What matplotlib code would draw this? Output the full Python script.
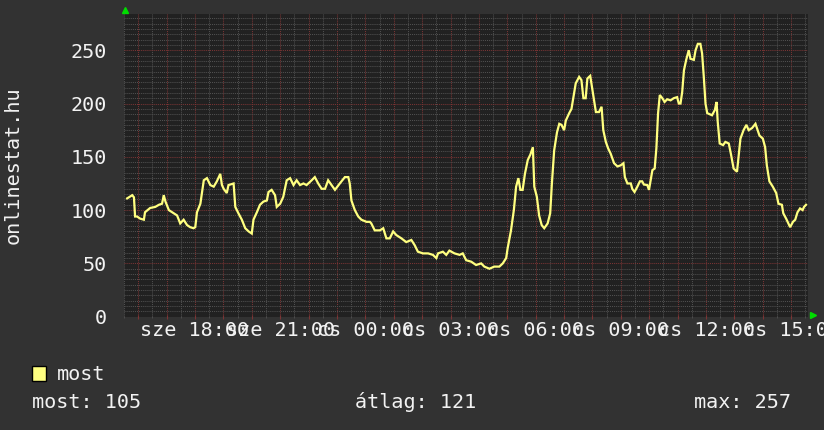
import matplotlib
matplotlib.use('Agg')
import matplotlib.pyplot as plt
import numpy as np
from matplotlib.transforms import offset_copy
from matplotlib.patches import Rectangle

# ---- data (time in hours since previous midnight; >24 = next day) ----
hours = [15.61, 15.79, 15.85, 15.89, 15.96, 16.07, 16.20, 16.24, 16.42, 16.60,
         16.73, 16.84, 16.90, 16.96, 17.08, 17.25, 17.37, 17.48, 17.60, 17.72,
         17.83, 17.95, 18.01, 18.07, 18.19, 18.31, 18.42, 18.54, 18.66, 18.77,
         18.89, 18.95, 19.01, 19.12, 19.18, 19.36, 19.42, 19.53, 19.65, 19.77,
         19.89, 20.00, 20.06, 20.18, 20.29, 20.41, 20.53, 20.59, 20.70, 20.82,
         20.88, 21.00, 21.11, 21.23, 21.35, 21.47, 21.58, 21.70, 21.82, 21.93,
         22.11, 22.22, 22.34, 22.46, 22.58, 22.69, 22.81, 22.93, 23.10, 23.28,
         23.40, 23.45, 23.51, 23.63, 23.75, 23.86, 24.04, 24.16, 24.21, 24.33,
         24.51, 24.63, 24.74, 24.86, 24.98, 25.09, 25.27, 25.44, 25.62, 25.74,
         25.85, 26.03, 26.21, 26.38, 26.50, 26.56, 26.73, 26.85, 26.96, 27.14,
         27.32, 27.43, 27.55, 27.73, 27.90, 28.08, 28.19, 28.37, 28.54, 28.72,
         28.84, 28.96, 29.01, 29.13, 29.23, 29.31, 29.39, 29.46, 29.54, 29.62,
         29.72, 29.81, 29.90, 29.95, 30.04, 30.12, 30.21, 30.30, 30.42, 30.51,
         30.57, 30.65, 30.75, 30.83, 30.91, 31.00, 31.06, 31.18, 31.26, 31.33,
         31.41, 31.53, 31.61, 31.68, 31.76, 31.82, 31.92, 32.00, 32.12, 32.23,
         32.32, 32.38, 32.47, 32.55, 32.64, 32.76, 32.88, 32.99, 33.09, 33.14,
         33.23, 33.35, 33.40, 33.48, 33.58, 33.67, 33.75, 33.81, 33.93, 33.99,
         34.05, 34.11, 34.19, 34.25, 34.31, 34.37, 34.46, 34.54, 34.63, 34.75,
         34.86, 34.98, 35.04, 35.10, 35.16, 35.22, 35.30, 35.39, 35.45, 35.57,
         35.63, 35.71, 35.80, 35.86, 35.92, 35.98, 36.04, 36.21, 36.31, 36.37,
         36.41, 36.48, 36.60, 36.68, 36.80, 36.88, 36.97, 37.09, 37.15, 37.21,
         37.32, 37.42, 37.50, 37.62, 37.74, 37.79, 37.88, 38.00, 38.08, 38.14,
         38.23, 38.35, 38.47, 38.55, 38.67, 38.72, 38.82, 38.90, 38.96, 39.06,
         39.14, 39.22, 39.31, 39.40, 39.45, 39.52]
values = [111, 114, 112, 94, 94, 92, 91, 98, 102, 103,
          105, 106, 114, 108, 100, 97, 95, 87.5, 91, 86,
          84, 83, 84, 98, 106, 128, 130, 123.5, 122, 127,
          134, 123.5, 120, 116, 123.5, 125, 103, 97, 91, 83,
          80, 78, 91, 98, 105, 108, 109, 117, 119, 114,
          103, 106, 112.5, 128, 130, 123.5, 128, 123.5, 125, 123.5,
          128, 131, 125, 120, 120, 128, 123.5, 119, 125, 131,
          131, 125, 109, 100, 94, 91, 89, 89, 87.5, 81,
          81, 83, 73.5, 73.5, 80, 76.6, 73.5, 70, 72, 67,
          61, 59.4, 59.4, 58, 55, 59.4, 61, 58, 62, 59.4,
          58, 59.4, 53, 51.6, 48.5, 50, 47, 45, 47, 47,
          50, 55, 64, 81, 100, 122, 130, 119, 119, 134,
          147, 152, 159, 122, 112.5, 95, 86, 83, 87.5, 97,
          125, 156, 173, 181, 180, 175, 184, 191, 195, 206,
          219, 225, 222, 205, 205, 223.5, 226, 212.5, 192, 192,
          197, 175, 164, 158, 153, 144, 141, 142, 144, 131,
          125, 125, 120, 117, 122, 127, 127, 124, 123.5, 119,
          128, 137.5, 139, 158, 191, 208, 205, 201.5, 204, 203,
          205, 206, 200, 200, 211, 231, 241, 250, 242, 241,
          250, 256, 256, 247, 225, 200, 191, 189, 194, 201.5,
          183, 162.5, 161, 164, 162.5, 152, 139, 136, 152, 167,
          175, 180, 175, 177, 181, 177, 170, 167, 159, 142,
          127, 122, 116, 106, 105, 97, 92, 87.5, 84, 89,
          91, 98, 101.6, 100, 103, 105]

label_hours = [18, 21, 24, 27, 30, 33, 36, 39]
label_text = ["sze 18:00", "sze 21:00", "cs 00:00", "cs 03:00",
              "cs 06:00", "cs 09:00", "cs 12:00", "cs 15:00"]
y_ticks = [0, 50, 100, 150, 200, 250]
series_name = "most"
stat_labels = ["most: 105", "átlag: 121", "max: 257"]
y_title = "onlinestat.hu"

# ---- style ----
BG = '#323232'
PLOT_BG = '#212121'
TXT = '#f2f2f2'
LINE = '#ffff80'
FS = 14.5
plt.rcParams['font.family'] = ['DejaVu Sans Mono', 'DejaVu Sans']

W, H = 824, 430
fig = plt.figure(figsize=(W / 100, H / 100), dpi=100, facecolor=BG)
L, R, T, B = 124, 808, 14, 316.7
ax = fig.add_axes([L / W, 1 - B / H, (R - L) / W, (B - T) / H])
ax.set_facecolor(PLOT_BG)
ax.set_xlim(15.577, 39.59)
ax.set_ylim(0, 284)

# grid: hours major (red), half hours minor (grey); y major 50, minor 5
hour_ticks = np.arange(16, 40, 1)
half_ticks = np.arange(15.5, 40, 0.5)
xt_labels = [label_text[label_hours.index(h)] if h in label_hours else '' for h in hour_ticks]
ax.set_xticks(hour_ticks, labels=xt_labels)
ax.set_xticks(half_ticks, minor=True)
ax.set_yticks(y_ticks, labels=[str(v) for v in y_ticks])
ax.set_yticks(np.arange(0, 285, 5), minor=True)

ax.grid(which='minor', color='#505050', linestyle=(0, (1, 1)), linewidth=0.75)
ax.grid(which='major', color='#7a3434', linestyle=(0, (1, 1)), linewidth=0.75)
ax.set_axisbelow(True)

ax.tick_params(axis='x', which='major', length=3, direction='inout', color='#7a3434',
               pad=1.5, labelsize=FS, labelcolor=TXT)
ax.tick_params(axis='x', which='minor', length=2, direction='inout', color='#505050')
ax.tick_params(axis='y', which='major', length=0, pad=12, labelsize=FS, labelcolor=TXT)
ax.tick_params(axis='y', which='minor', length=0)
for s in ax.spines.values():
    s.set_visible(False)

ax.plot(hours, values, color=LINE, linewidth=1.6, solid_joinstyle='miter')

# green axis arrows
ax.plot([0], [1], marker='^', ms=5, color='#00dd00', clip_on=False,
        transform=offset_copy(ax.transAxes, fig, x=1, y=4, units='dots'))
ax.plot([1], [0], marker='>', ms=5, color='#00dd00', clip_on=False,
        transform=offset_copy(ax.transAxes, fig, x=5, y=2, units='dots'))

# y title
fig.text(13 / W, 1 - 165 / H, y_title, rotation=90, ha='center', va='center',
         color=TXT, fontsize=FS)

# legend
fig.patches.append(Rectangle((32 / W, 1 - 381 / H), 14 / W, 15 / H, transform=fig.transFigure,
                             facecolor=LINE, edgecolor='black', linewidth=1))
fig.text(57 / W, 1 - 374 / H, series_name, ha='left', va='center', color=TXT, fontsize=FS)
fig.text(32 / W, 1 - 402 / H, stat_labels[0], ha='left', va='center', color=TXT, fontsize=FS)
fig.text(355 / W, 1 - 402 / H, stat_labels[1], ha='left', va='center', color=TXT, fontsize=FS)
fig.text(791 / W, 1 - 402 / H, stat_labels[2], ha='right', va='center', color=TXT, fontsize=FS)

fig.savefig('out.png', dpi=100, facecolor=BG)
